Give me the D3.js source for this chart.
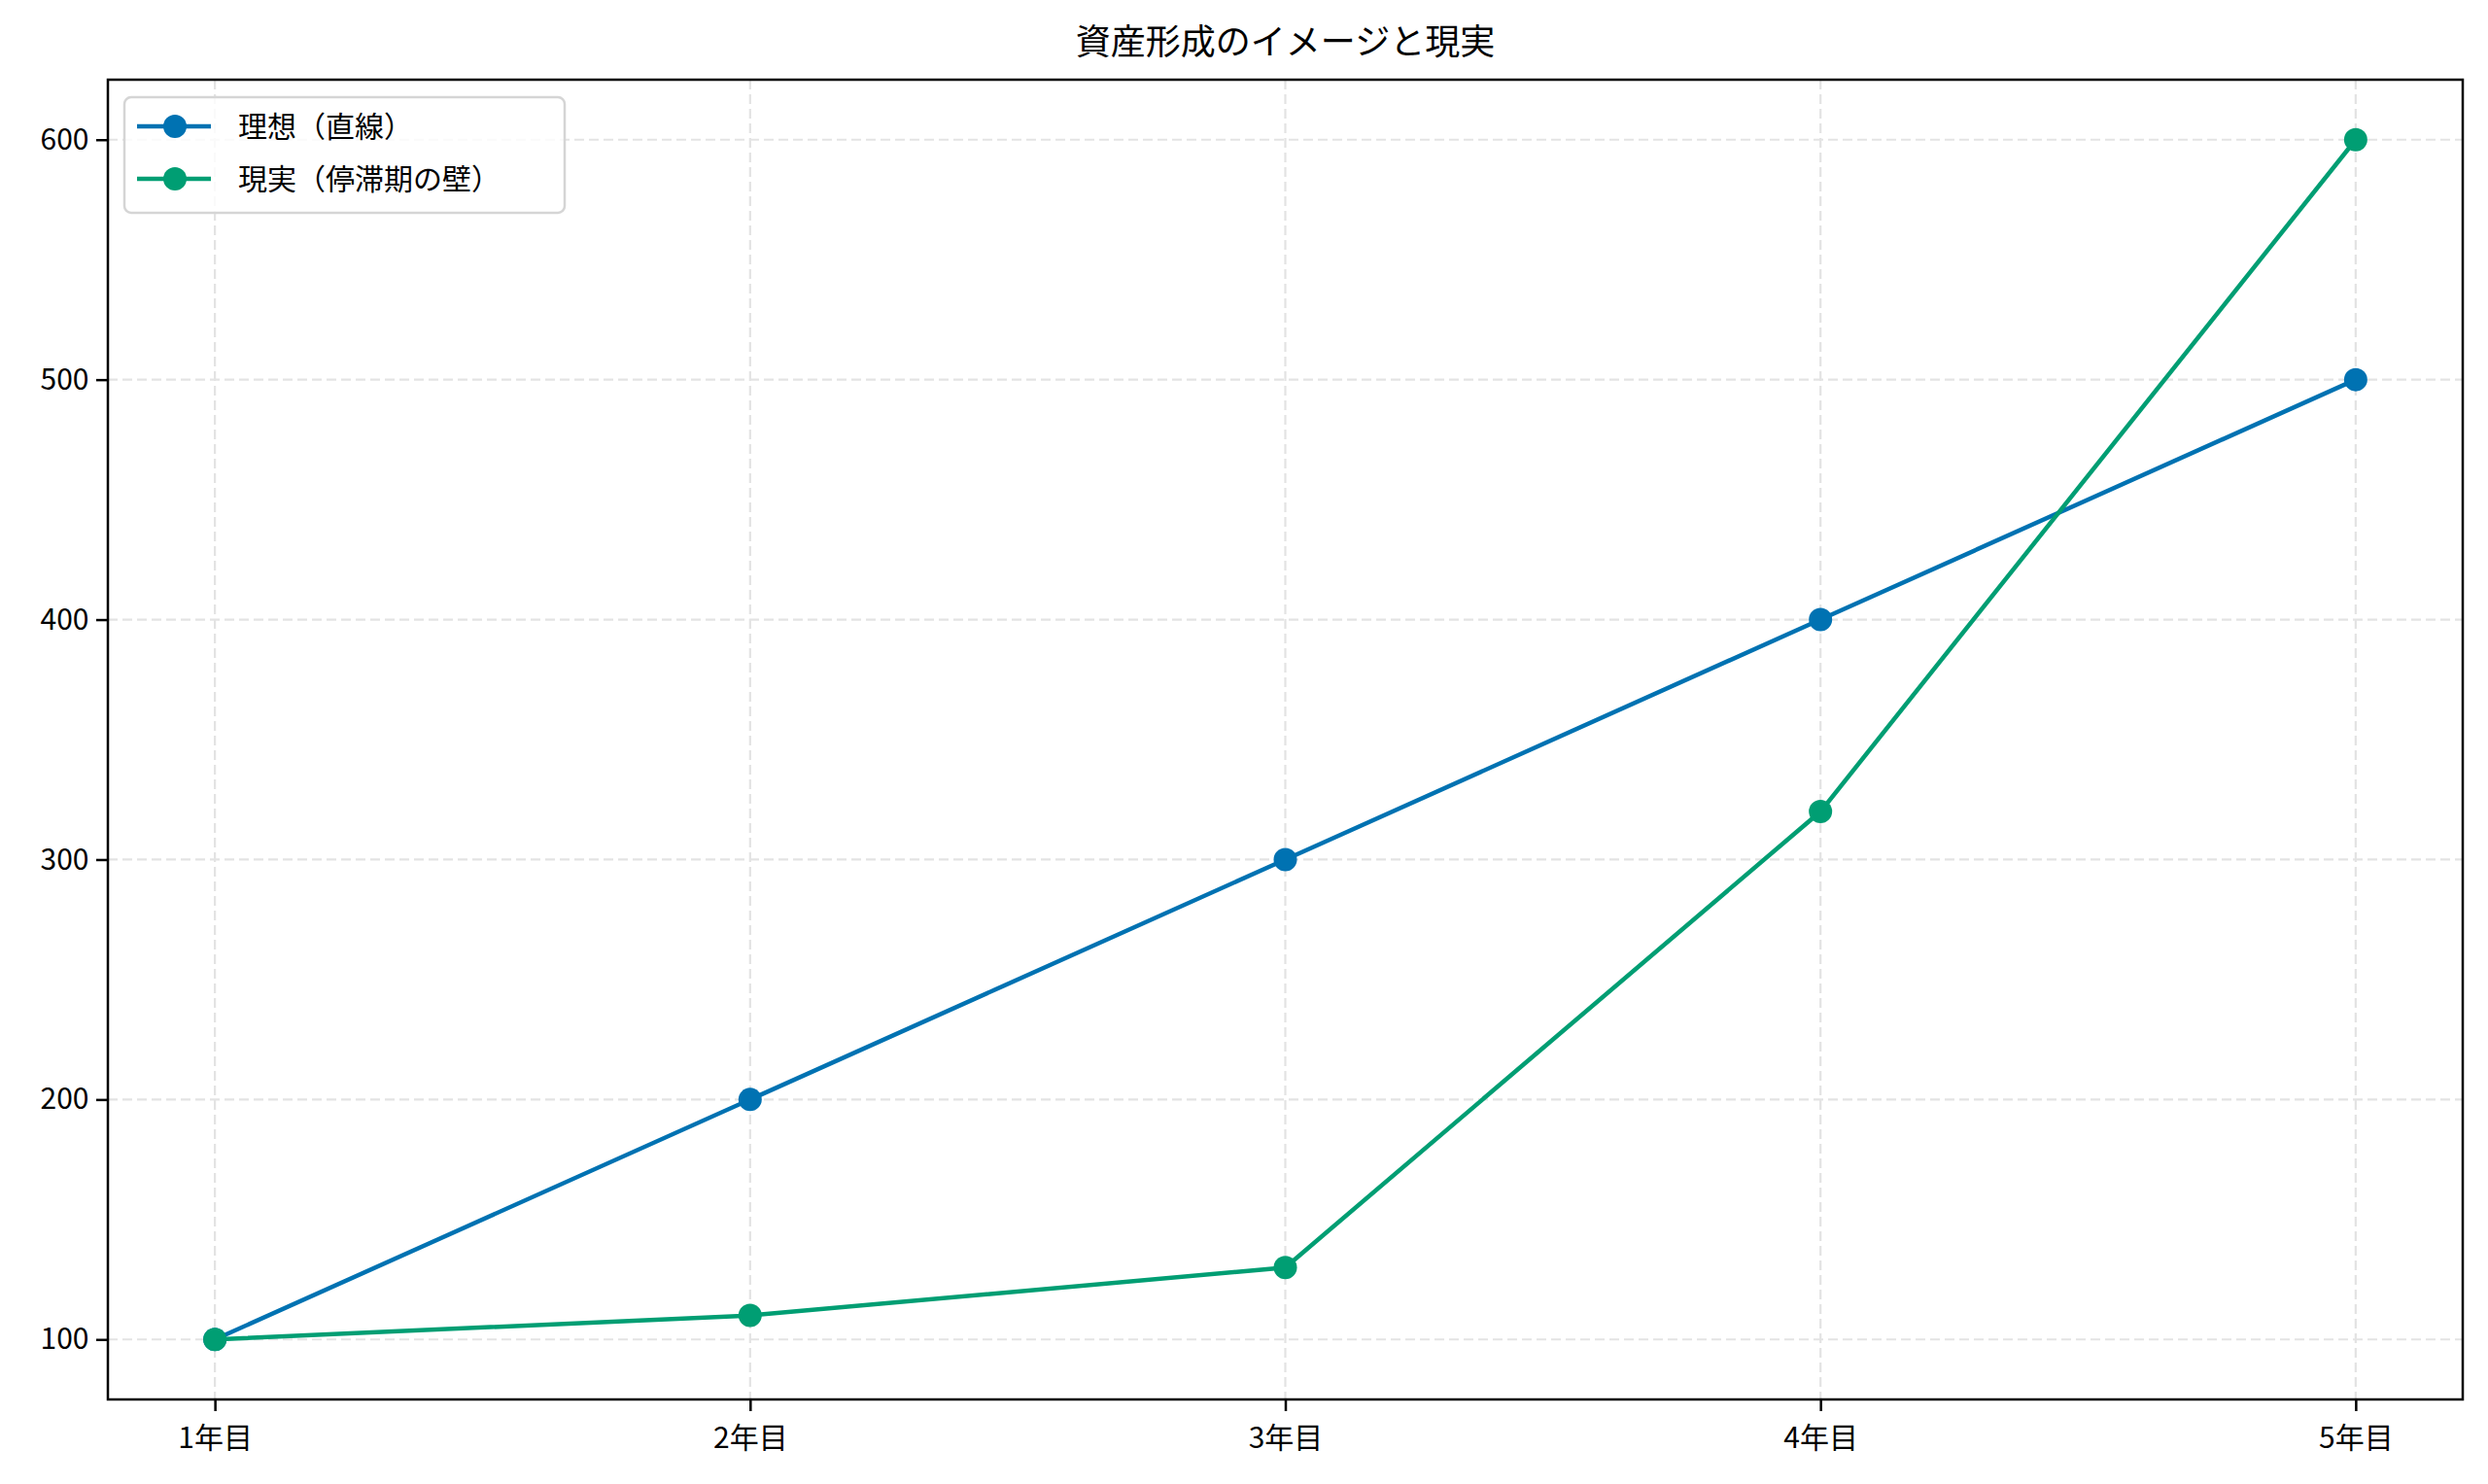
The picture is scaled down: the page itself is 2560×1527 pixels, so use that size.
<!DOCTYPE html>
<html><head><meta charset="utf-8">
<script src="https://cdn.jsdelivr.net/npm/d3@7"></script>
<style>body{margin:0;background:#fff}text{font-family:"Noto Sans CJK JP","Noto Sans",sans-serif}</style>
</head><body>
<svg id="c" width="2560" height="1527"></svg>
<script>
const categories=["1年目","2年目","3年目","4年目","5年目"];
const idealValues=[100,200,300,400,500];
const realValues=[100,110,130,320,600];
const yTicks=[100,200,300,400,500,600];
const seriesNames=["理想（直線）","現実（停滞期の壁）"];
const colors=["#0072B2","#009E73"];
const title="資産形成のイメージと現実";

const L=111,R=2534,T=82,B=1440;
const svg=d3.select("#c");
const x=d3.scaleLinear().domain([-0.2,4.2]).range([L,R]);
const y=d3.scaleLinear().domain([75,625]).range([B,T]);

// grid
const g=svg.append("g");
g.selectAll(".gx").data(categories).join("line").attr("x1",(d,i)=>x(i)).attr("x2",(d,i)=>x(i))
 .attr("y1",T).attr("y2",B).attr("stroke","#e3e3e3").attr("stroke-width",2.2).attr("stroke-dasharray","10,5");
g.selectAll(".gy").data(yTicks).join("line").attr("y1",d=>y(d)).attr("y2",d=>y(d))
 .attr("x1",L).attr("x2",R).attr("stroke","#e3e3e3").attr("stroke-width",2.2).attr("stroke-dasharray","10,5");

// axes
const xa=svg.append("g").attr("transform",`translate(0,${B})`)
 .call(d3.axisBottom(x).tickValues([0,1,2,3,4]).tickFormat(i=>categories[i]).tickSize(12).tickSizeOuter(0));
const ya=svg.append("g").attr("transform",`translate(${L},0)`)
 .call(d3.axisLeft(y).tickValues(yTicks).tickSize(12).tickSizeOuter(0));
[xa,ya].forEach(a=>{a.select(".domain").remove();a.selectAll("line").attr("stroke","#000").attr("stroke-width",2.5);
 a.selectAll("text").attr("font-size",30).attr("fill","#000").attr("font-family",'"Noto Sans CJK JP",sans-serif');});
xa.selectAll("text").attr("dy","1.15em");
ya.selectAll("text").attr("dx","-0.15em");

// series
const data=[idealValues,realValues];
const line=d3.line().x((d,i)=>x(i)).y(d=>y(d));
data.forEach((vals,k)=>{
 svg.append("path").attr("d",line(vals)).attr("fill","none").attr("stroke",colors[k]).attr("stroke-width",4.5);
 svg.selectAll(".m"+k).data(vals).join("circle").attr("cx",(d,i)=>x(i)).attr("cy",d=>y(d)).attr("r",12).attr("fill",colors[k]);
});

// frame
svg.append("rect").attr("x",L).attr("y",T).attr("width",R-L).attr("height",B-T).attr("fill","none").attr("stroke","#000").attr("stroke-width",2.5);

// legend
svg.append("rect").attr("x",128).attr("y",100).attr("width",453).attr("height",119).attr("rx",7)
 .attr("fill","#fff").attr("fill-opacity",0.8).attr("stroke","#d5d5d5").attr("stroke-width",2.5);
seriesNames.forEach((n,k)=>{
 const cy=130+k*54;
 svg.append("line").attr("x1",141).attr("x2",217).attr("y1",cy).attr("y2",cy).attr("stroke",colors[k]).attr("stroke-width",4.5);
 svg.append("circle").attr("cx",180).attr("cy",cy).attr("r",12).attr("fill",colors[k]);
 svg.append("text").attr("x",245).attr("y",cy).attr("dy","0.35em").attr("font-size",30).text(n);
});

svg.append("text").attr("x",(L+R)/2).attr("y",43).attr("dy","0.35em").attr("text-anchor","middle").attr("font-size",36).text(title);
</script></body></html>
